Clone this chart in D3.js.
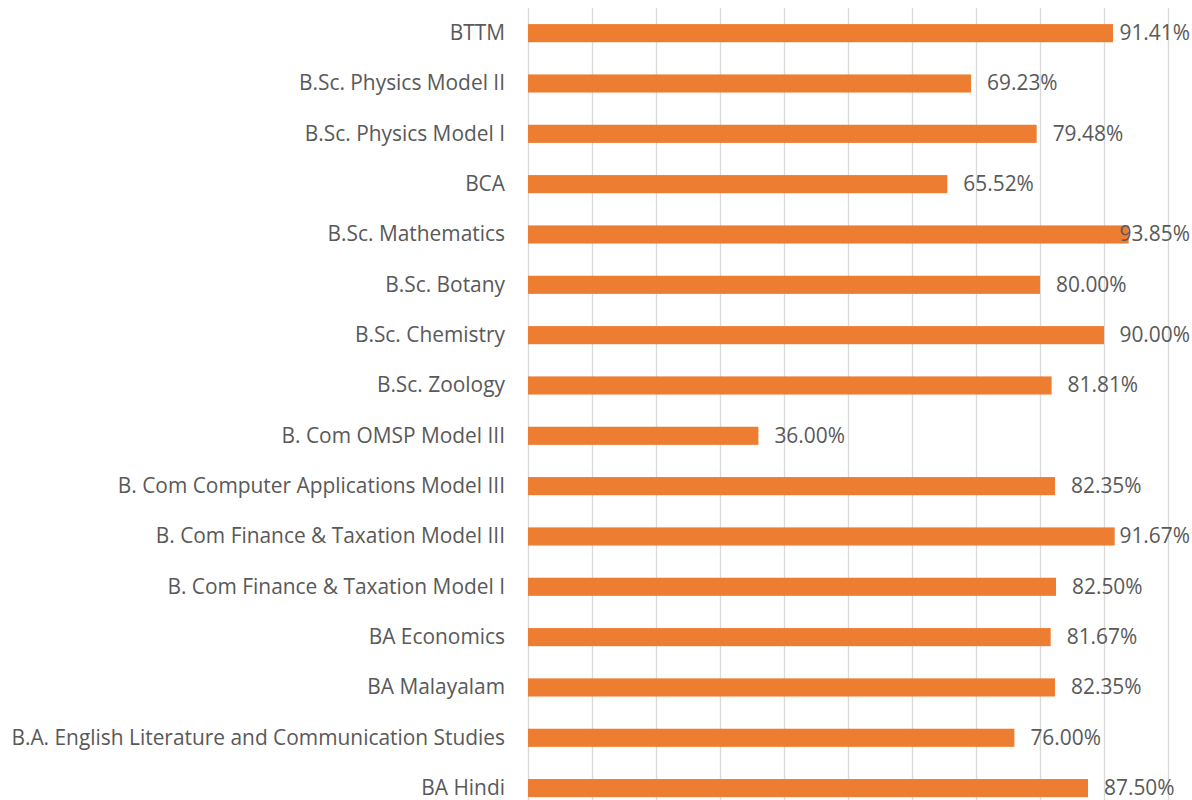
<!DOCTYPE html>
<html>
<head>
<meta charset="utf-8">
<script src="https://cdn.jsdelivr.net/npm/d3@7"></script>
<style>
  body { margin: 0; background: #fff; }
  svg text { font-family: "Open Sans", "Noto Sans", sans-serif; }
</style>
</head>
<body>
<div class="canvas"></div>
<script>
const programmes = [
  "BTTM",
  "B.Sc. Physics Model II",
  "B.Sc. Physics Model I",
  "BCA",
  "B.Sc. Mathematics",
  "B.Sc. Botany",
  "B.Sc. Chemistry",
  "B.Sc. Zoology",
  "B. Com OMSP Model III",
  "B. Com Computer Applications Model III",
  "B. Com Finance & Taxation Model III",
  "B. Com Finance & Taxation Model I",
  "BA Economics",
  "BA Malayalam",
  "B.A. English Literature and Communication Studies",
  "BA Hindi"
];
const passRates = [91.41, 69.23, 79.48, 65.52, 93.85, 80.0, 90.0, 81.81, 36.0, 82.35, 91.67, 82.5, 81.67, 82.35, 76.0, 87.5];
const gridTicks = [0, 10, 20, 30, 40, 50, 60, 70, 80, 90, 100];

const width = 1192;
const height = 800;
const margin = { top: 8, right: 24, left: 528 };
const fontSize = 20.9;

const svg = d3.select(".canvas")
  .append("svg")
  .attr("width", width)
  .attr("height", height);

const x = d3.scaleLinear()
  .domain([0, 100])
  .range([margin.left, 1168]);

const y = d3.scaleBand()
  .domain(programmes)
  .range([margin.top, margin.top + 50.33 * programmes.length])
  .paddingInner(0.64)
  .paddingOuter(0.32);

// vertical gridlines
svg.append("g")
  .selectAll("line")
  .data(gridTicks)
  .enter()
  .append("line")
  .attr("x1", d => x(d) + 0.5)
  .attr("x2", d => x(d) + 0.5)
  .attr("y1", margin.top)
  .attr("y2", height)
  .attr("stroke", "#d9d9d9")
  .attr("stroke-width", 1.3);

const rows = programmes.map((p, i) => ({ name: p, value: passRates[i] }));

// bars
svg.append("g")
  .selectAll("rect")
  .data(rows)
  .enter()
  .append("rect")
  .attr("x", x(0))
  .attr("y", d => y(d.name))
  .attr("width", d => x(d.value) - x(0))
  .attr("height", y.bandwidth())
  .attr("fill", "#ed7d31");

// category labels
svg.append("g")
  .selectAll("text")
  .data(rows)
  .enter()
  .append("text")
  .attr("x", 505)
  .attr("y", d => y(d.name) + y.bandwidth() / 2)
  .attr("dy", "0.33em")
  .attr("text-anchor", "end")
  .attr("font-size", fontSize)
  .attr("fill", "#595959")
  .text(d => d.name);

// value labels, pushed back inside the frame when they would overflow
const vals = svg.append("g")
  .selectAll("text")
  .data(rows)
  .enter()
  .append("text")
  .attr("y", d => y(d.name) + y.bandwidth() / 2)
  .attr("dy", "0.33em")
  .attr("font-size", fontSize)
  .attr("fill", "#595959")
  .text(d => d3.format(".2f")(d.value) + "%");

vals.attr("x", function(d) {
  const w = this.getComputedTextLength();
  return Math.min(x(d.value) + 16, width - 2 - w);
});
</script>
</body>
</html>
